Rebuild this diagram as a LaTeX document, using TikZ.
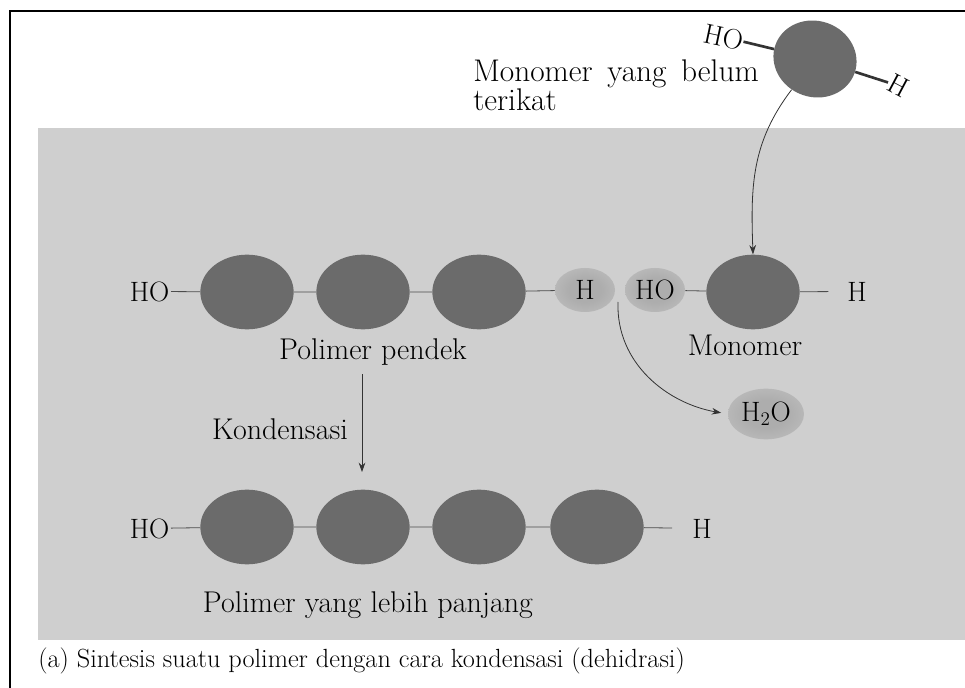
\documentclass[tikz,border=0pt]{standalone}
\usetikzlibrary{shapes.geometric,arrows.meta}
\definecolor{bgc}{gray}{0.81}
\definecolor{ellc}{gray}{0.42}
\definecolor{haloc}{gray}{0.68}
\pgfdeclareradialshading{halo}{\pgfpointorigin}{color(0bp)=(haloc); color(14bp)=(haloc); color(50bp)=(bgc)}
\begin{document}
\begin{tikzpicture}[x=0.75pt,y=-0.75pt,
  lbl/.style={font=\fontsize{22.5}{26}\selectfont, inner sep=1pt, text=black},
  chem/.style={font=\fontsize{21}{24}\selectfont, inner sep=1pt, text=black},
  toplbl/.style={font=\fontsize{23.5}{26}\selectfont, inner sep=0pt, text=black, anchor=base west},
  bead/.style={ellipse, fill=ellc, minimum width=70pt, minimum height=56pt, inner sep=0pt},
  halonode/.style={ellipse, shade, shading=halo, minimum width=45pt, minimum height=33pt, inner sep=0pt, font=\fontsize{21}{24}\selectfont, text=black},
  bond/.style={draw=black!70, line width=0.6pt},
  arr/.style={draw=black!80, line width=0.6pt, -{Stealth[length=7pt,width=5pt]}}]
\useasboundingbox (0,0) rectangle (965,688);
\fill[bgc] (38,128) rectangle (965,640);
\draw[line width=1.9pt] (10,688) -- (10,11) -- (965,11);

% top unbound monomer
\node[bead, minimum width=63pt, minimum height=57pt, rotate=-20] (mt) at (815,59) {};
\node[chem, inner sep=0pt, rotate=-12] (hot) at (724,37) {HO};
\node[chem, rotate=-28] (ht) at (899,86) {H};
\draw[draw=black!80, line width=2pt] (hot) -- (mt);
\draw[draw=black!80, line width=2pt] (mt) -- (ht);
\node[toplbl] (ub1) at (473,82) {Monomer\hspace{11pt}yang\hspace{11pt}belum};
\node[toplbl] (ub2) at (473,111) {terikat};

% row 1
\node[chem, anchor=base east] (ho1) at (171,301) {HO};
\node[bead] (a1) at (247,292) {};
\node[bead] (a2) at (363,292) {};
\node[bead] (a3) at (479,292) {};
\node[halonode] (h1) at (585,290) {H};
\node[halonode] (ho2) at (655,290) {HO};
\node[bead] (m) at (753,292) {};
\node[chem, anchor=base] (h2) at (857,301) {H};
\draw[bond] (ho1) -- (a1) -- (a2) -- (a3) -- (h1);
\draw[bond, shorten >=13pt] (ho2) -- (m) -- (h2);
\node[lbl, anchor=base] (pp) at (373,359) {Polimer pendek};
\node[lbl, anchor=base] (mono) at (745,355) {Monomer};

\draw[arr] (mt) to[out=-120, in=92] (m.north);

% water
\node[halonode, minimum width=57pt, minimum height=38pt] (w) at (766,414) {H$_2$O};
\coordinate (c1) at (618,302);
\draw[arr, shorten >=5pt] (c1) to[out=-92, in=170] (w.west);

% condensation arrow
\node[lbl, anchor=base] (kond) at (280,439) {Kondensasi};
\coordinate (k1) at (362,374);
\coordinate (k2) at (362,472);
\draw[arr] (k1) -- (k2);

% row 2
\node[chem, anchor=base east] (ho3) at (171,538) {HO};
\node[bead] (b1) at (247,527) {};
\node[bead] (b2) at (363,527) {};
\node[bead] (b3) at (479,527) {};
\node[bead] (b4) at (597,527) {};
\node[chem, anchor=base] (h3) at (702,538) {H};
\draw[bond, shorten >=14pt] (ho3) -- (b1) -- (b2) -- (b3) -- (b4) -- (h3);
\node[lbl, anchor=base] (pl) at (368,612) {Polimer yang lebih panjang};

% caption
\node[font=\fontsize{19.7}{23}\selectfont, anchor=base west, inner sep=0pt, text=black] (cap) at (38,667) {(a) Sintesis suatu polimer dengan cara kondensasi (dehidrasi)};
\end{tikzpicture}
\end{document}
